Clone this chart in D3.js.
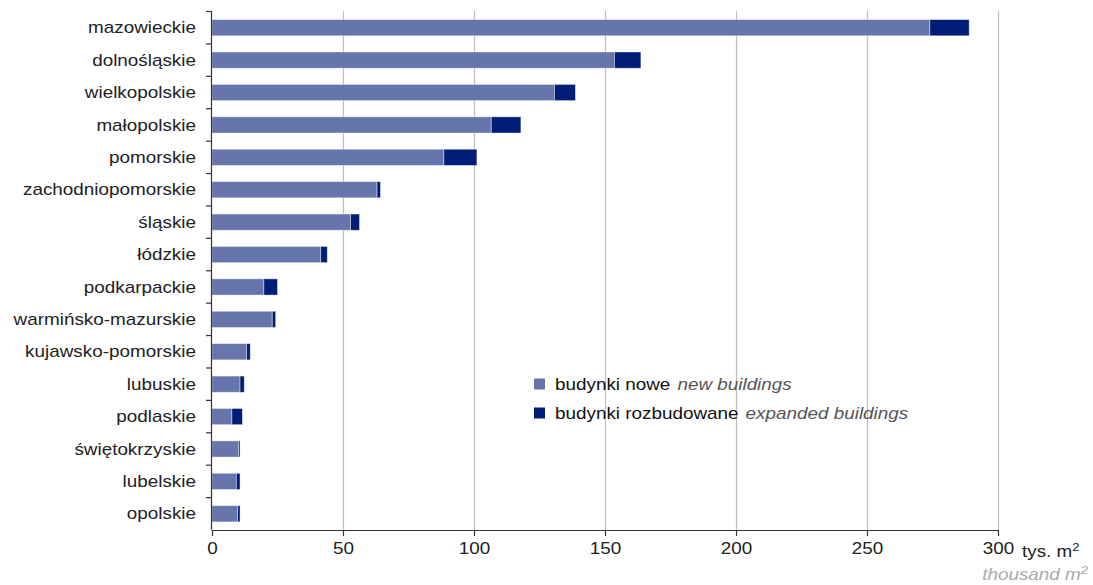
<!DOCTYPE html>
<html>
<head>
<meta charset="utf-8">
<script src="https://cdn.jsdelivr.net/npm/d3@7"></script>
<style>
  body { margin: 0; background: #fff; }
  svg { display: block; font-family: "Liberation Sans", Arial, sans-serif; }
</style>
</head>
<body>
<div id="chart"></div>
<script>
var regions = ["mazowieckie", "dolnośląskie", "wielkopolskie", "małopolskie", "pomorskie",
  "zachodniopomorskie", "śląskie", "łódzkie", "podkarpackie", "warmińsko-mazurskie",
  "kujawsko-pomorskie", "lubuskie", "podlaskie", "świętokrzyskie", "lubelskie", "opolskie"];
var nowe = [274, 153.6, 130.7, 106.6, 88.5, 63, 52.9, 41.5, 19.8, 23, 13.2, 10.7, 7.6, 10.2, 9.3, 9.8];
var rozbudowane = [15, 10.1, 8, 11.3, 12.6, 1.3, 3.4, 2.5, 5.2, 1.3, 1.4, 1.6, 4, 0.5, 1.4, 0.9];
var xTicks = [0, 50, 100, 150, 200, 250, 300];
var seriesNames = ["budynki nowe", "budynki rozbudowane"];
var seriesNamesEn = ["new buildings", "expanded buildings"];

var width = 1093, height = 585;
var sx = 1.18; // text is drawn wider than tall in the original
var colors = ["#6676ac", "#001e78"];

var svg = d3.select("#chart").append("svg")
  .attr("width", width)
  .attr("height", height);

var x = d3.scaleLinear().domain([0, 300]).range([212, 998]);
var y = d3.scaleBand().domain(regions).range([11.5, 530]).paddingInner(0.5).paddingOuter(0.25);

// grid
svg.append("g").selectAll("line")
  .data(xTicks.slice(1))
  .enter().append("line")
  .attr("x1", function (d) { return Math.round(x(d)) + 0.5; })
  .attr("x2", function (d) { return Math.round(x(d)) + 0.5; })
  .attr("y1", 11)
  .attr("y2", 530)
  .attr("stroke", "#bdbdbd")
  .attr("stroke-width", 1.2);

// bars
var rows = regions.map(function (r, i) { return {name: r, a: nowe[i], b: rozbudowane[i]}; });

svg.append("g").selectAll("rect")
  .data(rows)
  .enter().append("rect")
  .attr("x", x(0))
  .attr("y", function (d) { return y(d.name); })
  .attr("width", function (d) { return x(d.a) - x(0); })
  .attr("height", y.bandwidth())
  .attr("fill", colors[0])
  .attr("stroke", "#fff")
  .attr("stroke-opacity", 0.5)
  .attr("stroke-width", 0.8);

svg.append("g").selectAll("rect")
  .data(rows)
  .enter().append("rect")
  .attr("x", function (d) { return x(d.a); })
  .attr("y", function (d) { return y(d.name); })
  .attr("width", function (d) { return x(d.a + d.b) - x(d.a); })
  .attr("height", y.bandwidth())
  .attr("fill", colors[1])
  .attr("stroke", "#fff")
  .attr("stroke-opacity", 0.5)
  .attr("stroke-width", 0.8);

// y axis
var yAxis = svg.append("g");
yAxis.append("line")
  .attr("x1", 211.5).attr("x2", 211.5)
  .attr("y1", 11).attr("y2", 530)
  .attr("stroke", "#333").attr("stroke-width", 1.2);

var bounds = regions.map(function (r) { return y(r) - y.step() * 0.25; });
yAxis.selectAll(".tk")
  .data(bounds)
  .enter().append("line")
  .attr("x1", 206).attr("x2", 212)
  .attr("y1", function (d) { return d; })
  .attr("y2", function (d) { return d; })
  .attr("stroke", "#333").attr("stroke-width", 1.2);

yAxis.selectAll("text")
  .data(regions)
  .enter().append("text")
  .attr("transform", function (d) { return "translate(196," + (y(d) + y.bandwidth() / 2) + ") scale(" + sx + ",1)"; })
  .attr("text-anchor", "end")
  .attr("dy", "0.35em")
  .attr("fill", "#222")
  .style("font-size", "16px")
  .text(function (d) { return d; });

// x axis
var xAxis = svg.append("g")
  .attr("transform", "translate(0,530)")
  .call(d3.axisBottom(x).tickValues(xTicks).tickSize(6).tickSizeOuter(0).tickPadding(7));
xAxis.select(".domain").attr("stroke", "#333").attr("stroke-width", 1.2);
xAxis.selectAll(".tick line").attr("stroke", "#333").attr("stroke-width", 1.2);
xAxis.selectAll(".tick text")
  .attr("fill", "#222")
  .style("font-size", "16px")
  .style("font-family", "'Liberation Sans', Arial, sans-serif")
  .attr("transform", "scale(" + sx + ",1)")
  .attr("x", 0);
xAxis.selectAll(".tick text")
  .attr("transform", function () { return "scale(" + sx + ",1)"; });

// unit labels
var unit = svg.append("text")
  .attr("transform", "translate(1022,557) scale(" + sx + ",1)")
  .attr("fill", "#222")
  .style("font-size", "16px");
unit.append("tspan").text("tys. m");
unit.append("tspan").attr("dy", -6).style("font-size", "11px").text("2");

var unitEn = svg.append("text")
  .attr("transform", "translate(1088,580) scale(" + sx + ",1)")
  .attr("text-anchor", "end")
  .attr("fill", "#aaa")
  .style("font-size", "16px")
  .style("font-style", "italic");
unitEn.append("tspan").text("thousand m");
unitEn.append("tspan").attr("dy", -6).style("font-size", "11px").text("2");

// legend
var legend = svg.append("g").selectAll("g")
  .data(seriesNames)
  .enter().append("g")
  .attr("transform", function (d, i) { return "translate(534," + (384 + i * 29) + ")"; });

legend.append("rect")
  .attr("x", 0).attr("y", -5.5)
  .attr("width", 11).attr("height", 11)
  .attr("fill", function (d, i) { return colors[i]; });

var lt = legend.append("text")
  .attr("transform", "translate(21,0) scale(" + sx + ",1)")
  .attr("dy", "0.35em")
  .style("font-size", "16px");
lt.append("tspan").attr("fill", "#111").text(function (d) { return d; });
lt.append("tspan").attr("fill", "#555").style("font-style", "italic")
  .attr("dx", 6)
  .text(function (d, i) { return seriesNamesEn[i]; });
</script>
</body>
</html>
